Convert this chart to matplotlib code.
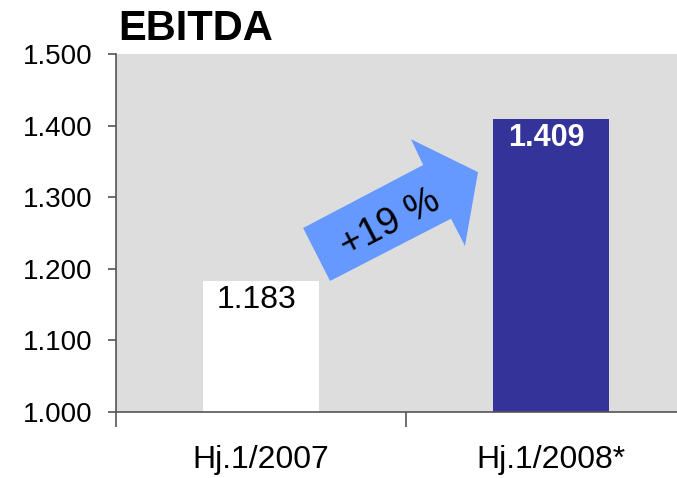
import matplotlib
matplotlib.use("Agg")
import matplotlib.pyplot as plt
from matplotlib.patches import Polygon
from matplotlib.transforms import offset_copy

categories = ["Hj.1/2007", "Hj.1/2008*"]
values = [1183, 1409]
value_labels = ["1.183", "1.409"]
bar_colors = ["#FFFFFF", "#333399"]
label_colors = ["#000000", "#FFFFFF"]
label_weights = ["normal", "bold"]
label_sizes = [23, 22]
yticks = [1000, 1100, 1200, 1300, 1400, 1500]
ytick_labels = ["1.000", "1.100", "1.200", "1.300", "1.400", "1.500"]
growth_label = "+19 %"

plt.rcParams['font.family'] = ['Liberation Sans', 'DejaVu Sans']

W, H = 677, 478
fig = plt.figure(figsize=(W / 100, H / 100), dpi=100)
fig.patch.set_facecolor("white")
ax = fig.add_axes([116 / W, 66 / H, 1 - 116 / W, 358 / H])
ax.set_facecolor("#DDDDDD")

x = list(range(len(categories)))
ax.bar(x, [v - 1000 for v in values], bottom=1000, width=0.4,
       color=bar_colors, edgecolor="none", zorder=2)

for s in ["top", "right"]:
    ax.spines[s].set_visible(False)
for s in ["left", "bottom"]:
    ax.spines[s].set_color("#555555")
    ax.spines[s].set_linewidth(1.2)
    ax.spines[s].set_zorder(3)

ax.set_yticks(yticks)
ax.set_yticklabels(ytick_labels, fontsize=20)
ax.tick_params(axis="y", direction="out", length=6, width=1.2, color="#555555", pad=11)

ax.set_xticks([-0.5, 0.5, 1.5])
ax.set_xticklabels([])
ax.tick_params(axis="x", which="major", direction="out", length=11, width=1.2, color="#555555")
ax.set_xticks(x, minor=True)
ax.set_xticklabels(categories, minor=True, fontsize=23)
ax.tick_params(axis="x", which="minor", length=0, pad=24)

ax.set_xlim(-0.5, 1.434)
ax.set_ylim(1000, 1500)

for xi, v, lab, c, fw, fs in zip(x, values, value_labels, label_colors,
                                 label_weights, label_sizes):
    tr = offset_copy(ax.transData, fig=fig, x=-5, y=-4, units="dots")
    ax.text(xi, v, lab, ha="center", va="top", fontsize=fs, color=c,
            fontweight=fw, transform=tr, zorder=4)

# growth arrow (annotation shape in data coordinates)
arrow_pts = [(0.238, 1183), (0.145, 1257), (0.559, 1345), (0.517, 1381),
             (0.748, 1335), (0.703, 1232), (0.655, 1270)]
ax.add_patch(Polygon(arrow_pts, closed=True, facecolor="#6699FF",
                     edgecolor="none", zorder=3))
ax.text(0.445, 1264, growth_label, ha="center", va="center", fontsize=27,
        rotation=27.5, rotation_mode="anchor", color="black", zorder=4)

fig.text(118 / W, 1 - 40 / H, "EBITDA", fontsize=30, fontweight="bold",
         ha="left", va="baseline")

fig.savefig("out.png", dpi=100)
